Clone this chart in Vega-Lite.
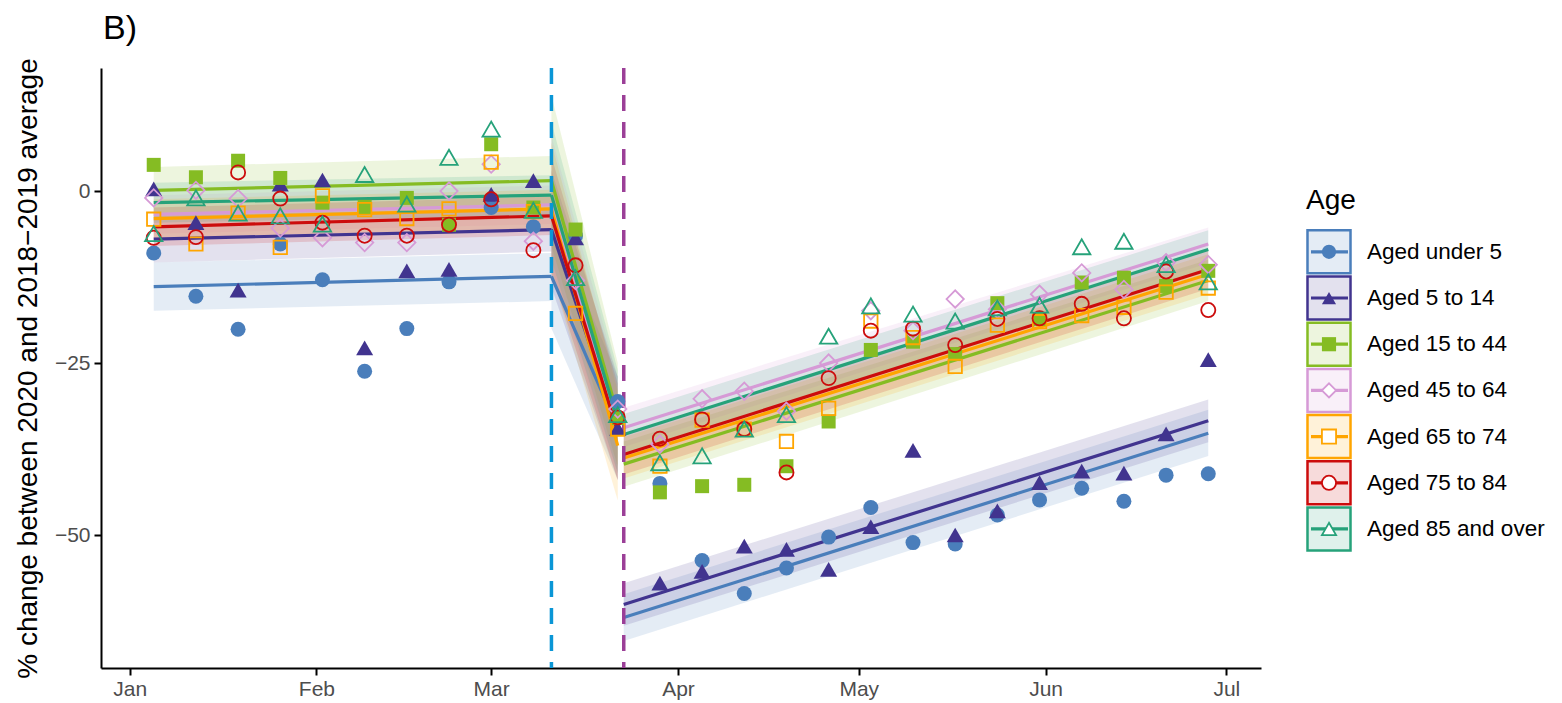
{
  "$schema": "https://vega.github.io/schema/vega-lite/v6.json",
  "background": "white",
  "padding": {"left": 14, "top": 11, "right": 2, "bottom": 2},
  "config": {"font": "Liberation Sans", "view": {"stroke": null}, "concat": {"spacing": 20}},
  "datasets": {
    "pts": [
      {"date":"2020-01-05","age":"Aged under 5","pct":-9.0},{"date":"2020-01-12","age":"Aged under 5","pct":-15.3},{"date":"2020-01-19","age":"Aged under 5","pct":-20.1},{"date":"2020-01-26","age":"Aged under 5","pct":-7.7},{"date":"2020-02-02","age":"Aged under 5","pct":-12.9},{"date":"2020-02-09","age":"Aged under 5","pct":-26.2},{"date":"2020-02-16","age":"Aged under 5","pct":-20.0},{"date":"2020-02-23","age":"Aged under 5","pct":-13.2},{"date":"2020-03-01","age":"Aged under 5","pct":-2.4},{"date":"2020-03-08","age":"Aged under 5","pct":-5.2},{"date":"2020-03-15","age":"Aged under 5","pct":-6.5},{"date":"2020-03-22","age":"Aged under 5","pct":-30.6},{"date":"2020-03-29","age":"Aged under 5","pct":-42.5},{"date":"2020-04-05","age":"Aged under 5","pct":-53.7},{"date":"2020-04-12","age":"Aged under 5","pct":-58.5},{"date":"2020-04-19","age":"Aged under 5","pct":-54.8},{"date":"2020-04-26","age":"Aged under 5","pct":-50.3},{"date":"2020-05-03","age":"Aged under 5","pct":-46.0},{"date":"2020-05-10","age":"Aged under 5","pct":-51.1},{"date":"2020-05-17","age":"Aged under 5","pct":-51.3},{"date":"2020-05-24","age":"Aged under 5","pct":-47.1},{"date":"2020-05-31","age":"Aged under 5","pct":-44.9},{"date":"2020-06-07","age":"Aged under 5","pct":-43.2},{"date":"2020-06-14","age":"Aged under 5","pct":-45.1},{"date":"2020-06-21","age":"Aged under 5","pct":-41.3},{"date":"2020-06-28","age":"Aged under 5","pct":-41.1},
      {"date":"2020-01-05","age":"Aged 5 to 14","pct":0.3},{"date":"2020-01-12","age":"Aged 5 to 14","pct":-4.6},{"date":"2020-01-19","age":"Aged 5 to 14","pct":-14.4},{"date":"2020-01-26","age":"Aged 5 to 14","pct":1.0},{"date":"2020-02-02","age":"Aged 5 to 14","pct":1.6},{"date":"2020-02-09","age":"Aged 5 to 14","pct":-22.8},{"date":"2020-02-16","age":"Aged 5 to 14","pct":-11.6},{"date":"2020-02-23","age":"Aged 5 to 14","pct":-11.4},{"date":"2020-03-01","age":"Aged 5 to 14","pct":-0.5},{"date":"2020-03-08","age":"Aged 5 to 14","pct":1.5},{"date":"2020-03-15","age":"Aged 5 to 14","pct":-6.8},{"date":"2020-03-22","age":"Aged 5 to 14","pct":-34.5},{"date":"2020-03-29","age":"Aged 5 to 14","pct":-57.0},{"date":"2020-04-05","age":"Aged 5 to 14","pct":-55.3},{"date":"2020-04-12","age":"Aged 5 to 14","pct":-51.6},{"date":"2020-04-19","age":"Aged 5 to 14","pct":-52.1},{"date":"2020-04-26","age":"Aged 5 to 14","pct":-55.0},{"date":"2020-05-03","age":"Aged 5 to 14","pct":-48.8},{"date":"2020-05-10","age":"Aged 5 to 14","pct":-37.7},{"date":"2020-05-17","age":"Aged 5 to 14","pct":-50.0},{"date":"2020-05-24","age":"Aged 5 to 14","pct":-46.5},{"date":"2020-05-31","age":"Aged 5 to 14","pct":-42.4},{"date":"2020-06-07","age":"Aged 5 to 14","pct":-40.7},{"date":"2020-06-14","age":"Aged 5 to 14","pct":-41.0},{"date":"2020-06-21","age":"Aged 5 to 14","pct":-35.3},{"date":"2020-06-28","age":"Aged 5 to 14","pct":-24.5},
      {"date":"2020-01-05","age":"Aged 15 to 44","pct":3.8},{"date":"2020-01-12","age":"Aged 15 to 44","pct":2.0},{"date":"2020-01-19","age":"Aged 15 to 44","pct":4.4},{"date":"2020-01-26","age":"Aged 15 to 44","pct":1.9},{"date":"2020-02-02","age":"Aged 15 to 44","pct":-1.7},{"date":"2020-02-09","age":"Aged 15 to 44","pct":-2.3},{"date":"2020-02-16","age":"Aged 15 to 44","pct":-1.0},{"date":"2020-02-23","age":"Aged 15 to 44","pct":-4.9},{"date":"2020-03-01","age":"Aged 15 to 44","pct":6.8},{"date":"2020-03-08","age":"Aged 15 to 44","pct":-2.4},{"date":"2020-03-15","age":"Aged 15 to 44","pct":-5.6},{"date":"2020-03-22","age":"Aged 15 to 44","pct":-33.0},{"date":"2020-03-29","age":"Aged 15 to 44","pct":-43.8},{"date":"2020-04-05","age":"Aged 15 to 44","pct":-42.9},{"date":"2020-04-12","age":"Aged 15 to 44","pct":-42.7},{"date":"2020-04-19","age":"Aged 15 to 44","pct":-40.0},{"date":"2020-04-26","age":"Aged 15 to 44","pct":-33.5},{"date":"2020-05-03","age":"Aged 15 to 44","pct":-23.1},{"date":"2020-05-10","age":"Aged 15 to 44","pct":-21.9},{"date":"2020-05-17","age":"Aged 15 to 44","pct":-23.7},{"date":"2020-05-24","age":"Aged 15 to 44","pct":-16.3},{"date":"2020-05-31","age":"Aged 15 to 44","pct":-18.6},{"date":"2020-06-07","age":"Aged 15 to 44","pct":-13.3},{"date":"2020-06-14","age":"Aged 15 to 44","pct":-12.6},{"date":"2020-06-21","age":"Aged 15 to 44","pct":-13.8},{"date":"2020-06-28","age":"Aged 15 to 44","pct":-11.6},
      {"date":"2020-01-05","age":"Aged 45 to 64","pct":-1.0},{"date":"2020-01-12","age":"Aged 45 to 64","pct":0.1},{"date":"2020-01-19","age":"Aged 45 to 64","pct":-1.1},{"date":"2020-01-26","age":"Aged 45 to 64","pct":-5.4},{"date":"2020-02-02","age":"Aged 45 to 64","pct":-6.8},{"date":"2020-02-09","age":"Aged 45 to 64","pct":-7.5},{"date":"2020-02-16","age":"Aged 45 to 64","pct":-7.5},{"date":"2020-02-23","age":"Aged 45 to 64","pct":0.0},{"date":"2020-03-01","age":"Aged 45 to 64","pct":3.9},{"date":"2020-03-08","age":"Aged 45 to 64","pct":-7.3},{"date":"2020-03-15","age":"Aged 45 to 64","pct":-13.0},{"date":"2020-03-22","age":"Aged 45 to 64","pct":-31.7},{"date":"2020-03-29","age":"Aged 45 to 64","pct":-36.8},{"date":"2020-04-05","age":"Aged 45 to 64","pct":-30.2},{"date":"2020-04-12","age":"Aged 45 to 64","pct":-29.1},{"date":"2020-04-19","age":"Aged 45 to 64","pct":-32.0},{"date":"2020-04-26","age":"Aged 45 to 64","pct":-25.0},{"date":"2020-05-03","age":"Aged 45 to 64","pct":-17.4},{"date":"2020-05-10","age":"Aged 45 to 64","pct":-20.3},{"date":"2020-05-17","age":"Aged 45 to 64","pct":-15.7},{"date":"2020-05-24","age":"Aged 45 to 64","pct":-17.2},{"date":"2020-05-31","age":"Aged 45 to 64","pct":-15.0},{"date":"2020-06-07","age":"Aged 45 to 64","pct":-11.9},{"date":"2020-06-14","age":"Aged 45 to 64","pct":-14.3},{"date":"2020-06-21","age":"Aged 45 to 64","pct":-10.4},{"date":"2020-06-28","age":"Aged 45 to 64","pct":-10.7},
      {"date":"2020-01-05","age":"Aged 65 to 74","pct":-4.1},{"date":"2020-01-12","age":"Aged 65 to 74","pct":-7.7},{"date":"2020-01-19","age":"Aged 65 to 74","pct":-3.2},{"date":"2020-01-26","age":"Aged 65 to 74","pct":-8.2},{"date":"2020-02-02","age":"Aged 65 to 74","pct":-0.7},{"date":"2020-02-09","age":"Aged 65 to 74","pct":-2.7},{"date":"2020-02-16","age":"Aged 65 to 74","pct":-4.0},{"date":"2020-02-23","age":"Aged 65 to 74","pct":-2.6},{"date":"2020-03-01","age":"Aged 65 to 74","pct":4.2},{"date":"2020-03-08","age":"Aged 65 to 74","pct":-3.0},{"date":"2020-03-15","age":"Aged 65 to 74","pct":-17.8},{"date":"2020-03-22","age":"Aged 65 to 74","pct":-34.6},{"date":"2020-03-29","age":"Aged 65 to 74","pct":-40.0},{"date":"2020-04-05","age":"Aged 65 to 74","pct":-33.3},{"date":"2020-04-12","age":"Aged 65 to 74","pct":-34.6},{"date":"2020-04-19","age":"Aged 65 to 74","pct":-36.4},{"date":"2020-04-26","age":"Aged 65 to 74","pct":-31.6},{"date":"2020-05-03","age":"Aged 65 to 74","pct":-18.9},{"date":"2020-05-10","age":"Aged 65 to 74","pct":-21.3},{"date":"2020-05-17","age":"Aged 65 to 74","pct":-25.5},{"date":"2020-05-24","age":"Aged 65 to 74","pct":-19.5},{"date":"2020-05-31","age":"Aged 65 to 74","pct":-19.0},{"date":"2020-06-07","age":"Aged 65 to 74","pct":-18.1},{"date":"2020-06-14","age":"Aged 65 to 74","pct":-16.9},{"date":"2020-06-21","age":"Aged 65 to 74","pct":-14.7},{"date":"2020-06-28","age":"Aged 65 to 74","pct":-14.1},
      {"date":"2020-01-05","age":"Aged 75 to 84","pct":-6.8},{"date":"2020-01-12","age":"Aged 75 to 84","pct":-6.7},{"date":"2020-01-19","age":"Aged 75 to 84","pct":2.7},{"date":"2020-01-26","age":"Aged 75 to 84","pct":-1.1},{"date":"2020-02-02","age":"Aged 75 to 84","pct":-4.6},{"date":"2020-02-09","age":"Aged 75 to 84","pct":-6.5},{"date":"2020-02-16","age":"Aged 75 to 84","pct":-6.5},{"date":"2020-02-23","age":"Aged 75 to 84","pct":-4.9},{"date":"2020-03-01","age":"Aged 75 to 84","pct":-1.2},{"date":"2020-03-08","age":"Aged 75 to 84","pct":-8.6},{"date":"2020-03-15","age":"Aged 75 to 84","pct":-10.8},{"date":"2020-03-22","age":"Aged 75 to 84","pct":-32.9},{"date":"2020-03-29","age":"Aged 75 to 84","pct":-36.0},{"date":"2020-04-05","age":"Aged 75 to 84","pct":-33.2},{"date":"2020-04-12","age":"Aged 75 to 84","pct":-34.6},{"date":"2020-04-19","age":"Aged 75 to 84","pct":-40.9},{"date":"2020-04-26","age":"Aged 75 to 84","pct":-27.2},{"date":"2020-05-03","age":"Aged 75 to 84","pct":-20.3},{"date":"2020-05-10","age":"Aged 75 to 84","pct":-20.0},{"date":"2020-05-17","age":"Aged 75 to 84","pct":-22.4},{"date":"2020-05-24","age":"Aged 75 to 84","pct":-18.6},{"date":"2020-05-31","age":"Aged 75 to 84","pct":-18.5},{"date":"2020-06-07","age":"Aged 75 to 84","pct":-16.4},{"date":"2020-06-14","age":"Aged 75 to 84","pct":-18.5},{"date":"2020-06-21","age":"Aged 75 to 84","pct":-11.7},{"date":"2020-06-28","age":"Aged 75 to 84","pct":-17.3},
      {"date":"2020-01-05","age":"Aged 85 and over","pct":-6.2},{"date":"2020-01-12","age":"Aged 85 and over","pct":-1.0},{"date":"2020-01-19","age":"Aged 85 and over","pct":-3.2},{"date":"2020-01-26","age":"Aged 85 and over","pct":-3.6},{"date":"2020-02-02","age":"Aged 85 and over","pct":-4.8},{"date":"2020-02-09","age":"Aged 85 and over","pct":2.4},{"date":"2020-02-16","age":"Aged 85 and over","pct":-1.9},{"date":"2020-02-23","age":"Aged 85 and over","pct":4.9},{"date":"2020-03-01","age":"Aged 85 and over","pct":9.0},{"date":"2020-03-08","age":"Aged 85 and over","pct":-2.8},{"date":"2020-03-15","age":"Aged 85 and over","pct":-12.6},{"date":"2020-03-22","age":"Aged 85 and over","pct":-32.5},{"date":"2020-03-29","age":"Aged 85 and over","pct":-39.5},{"date":"2020-04-05","age":"Aged 85 and over","pct":-38.5},{"date":"2020-04-12","age":"Aged 85 and over","pct":-34.6},{"date":"2020-04-19","age":"Aged 85 and over","pct":-32.5},{"date":"2020-04-26","age":"Aged 85 and over","pct":-21.1},{"date":"2020-05-03","age":"Aged 85 and over","pct":-16.7},{"date":"2020-05-10","age":"Aged 85 and over","pct":-17.9},{"date":"2020-05-17","age":"Aged 85 and over","pct":-18.9},{"date":"2020-05-24","age":"Aged 85 and over","pct":-17.0},{"date":"2020-05-31","age":"Aged 85 and over","pct":-16.6},{"date":"2020-06-07","age":"Aged 85 and over","pct":-8.1},{"date":"2020-06-14","age":"Aged 85 and over","pct":-7.3},{"date":"2020-06-21","age":"Aged 85 and over","pct":-10.7},{"date":"2020-06-28","age":"Aged 85 and over","pct":-13.2}
    ],
    "fit": [
      {"age":"Aged under 5","seg":"pre","date":"2020-01-05","fit":-13.9,"lo":-17.4,"hi":-10.4},{"age":"Aged under 5","seg":"pre","date":"2020-03-11","fit":-12.4,"lo":-16.0,"hi":-9.0},
      {"age":"Aged under 5","seg":"trans","date":"2020-03-11","fit":-12.4,"lo":-20.0,"hi":-4.0},{"age":"Aged under 5","seg":"trans","date":"2020-03-22","fit":-34.5,"lo":-42.0,"hi":-27.0},
      {"age":"Aged under 5","seg":"post","date":"2020-03-23","fit":-62.0,"lo":-65.4,"hi":-58.6},{"age":"Aged under 5","seg":"post","date":"2020-06-28","fit":-35.2,"lo":-38.5,"hi":-31.8},
      {"age":"Aged 5 to 14","seg":"pre","date":"2020-01-05","fit":-7.0,"lo":-10.4,"hi":-3.6},{"age":"Aged 5 to 14","seg":"pre","date":"2020-03-11","fit":-5.6,"lo":-8.8,"hi":-2.4},
      {"age":"Aged 5 to 14","seg":"trans","date":"2020-03-11","fit":-5.6,"lo":-14.0,"hi":3.0},{"age":"Aged 5 to 14","seg":"trans","date":"2020-03-22","fit":-34.5,"lo":-42.0,"hi":-27.0},
      {"age":"Aged 5 to 14","seg":"post","date":"2020-03-23","fit":-60.1,"lo":-63.2,"hi":-57.0},{"age":"Aged 5 to 14","seg":"post","date":"2020-06-28","fit":-33.4,"lo":-36.5,"hi":-30.3},
      {"age":"Aged 15 to 44","seg":"pre","date":"2020-01-05","fit":0.1,"lo":-3.3,"hi":3.5},{"age":"Aged 15 to 44","seg":"pre","date":"2020-03-11","fit":1.5,"lo":-2.1,"hi":5.1},
      {"age":"Aged 15 to 44","seg":"trans","date":"2020-03-11","fit":1.5,"lo":-8.0,"hi":13.9},{"age":"Aged 15 to 44","seg":"trans","date":"2020-03-22","fit":-32.5,"lo":-40.0,"hi":-25.0},
      {"age":"Aged 15 to 44","seg":"post","date":"2020-03-23","fit":-39.7,"lo":-43.0,"hi":-36.4},{"age":"Aged 15 to 44","seg":"post","date":"2020-06-28","fit":-13.0,"lo":-16.0,"hi":-10.0},
      {"age":"Aged 45 to 64","seg":"pre","date":"2020-01-05","fit":-3.4,"lo":-6.2,"hi":-0.6},{"age":"Aged 45 to 64","seg":"pre","date":"2020-03-11","fit":-2.0,"lo":-4.8,"hi":0.8},
      {"age":"Aged 45 to 64","seg":"trans","date":"2020-03-11","fit":-2.0,"lo":-11.0,"hi":8.0},{"age":"Aged 45 to 64","seg":"trans","date":"2020-03-22","fit":-34.0,"lo":-41.0,"hi":-27.0},
      {"age":"Aged 45 to 64","seg":"post","date":"2020-03-23","fit":-34.4,"lo":-37.2,"hi":-31.5},{"age":"Aged 45 to 64","seg":"post","date":"2020-06-28","fit":-7.7,"lo":-10.5,"hi":-5.3},
      {"age":"Aged 65 to 74","seg":"pre","date":"2020-01-05","fit":-4.0,"lo":-6.8,"hi":-1.2},{"age":"Aged 65 to 74","seg":"pre","date":"2020-03-11","fit":-2.6,"lo":-5.4,"hi":0.2},
      {"age":"Aged 65 to 74","seg":"trans","date":"2020-03-11","fit":-2.6,"lo":-12.0,"hi":7.0},{"age":"Aged 65 to 74","seg":"trans","date":"2020-03-22","fit":-37.0,"lo":-45.0,"hi":-29.0},
      {"age":"Aged 65 to 74","seg":"post","date":"2020-03-23","fit":-38.8,"lo":-41.8,"hi":-35.8},{"age":"Aged 65 to 74","seg":"post","date":"2020-06-28","fit":-12.1,"lo":-15.0,"hi":-9.2},
      {"age":"Aged 75 to 84","seg":"pre","date":"2020-01-05","fit":-5.2,"lo":-8.0,"hi":-2.4},{"age":"Aged 75 to 84","seg":"pre","date":"2020-03-11","fit":-3.6,"lo":-6.4,"hi":-0.8},
      {"age":"Aged 75 to 84","seg":"trans","date":"2020-03-11","fit":-3.6,"lo":-12.0,"hi":5.0},{"age":"Aged 75 to 84","seg":"trans","date":"2020-03-22","fit":-35.0,"lo":-42.0,"hi":-28.0},
      {"age":"Aged 75 to 84","seg":"post","date":"2020-03-23","fit":-38.3,"lo":-41.2,"hi":-35.4},{"age":"Aged 75 to 84","seg":"post","date":"2020-06-28","fit":-11.4,"lo":-14.2,"hi":-8.6},
      {"age":"Aged 85 and over","seg":"pre","date":"2020-01-05","fit":-1.7,"lo":-4.6,"hi":1.2},{"age":"Aged 85 and over","seg":"pre","date":"2020-03-11","fit":-0.6,"lo":-3.5,"hi":2.3},
      {"age":"Aged 85 and over","seg":"trans","date":"2020-03-11","fit":-0.6,"lo":-10.0,"hi":10.0},{"age":"Aged 85 and over","seg":"trans","date":"2020-03-22","fit":-33.5,"lo":-41.0,"hi":-26.0},
      {"age":"Aged 85 and over","seg":"post","date":"2020-03-23","fit":-35.4,"lo":-38.4,"hi":-32.4},{"age":"Aged 85 and over","seg":"post","date":"2020-06-28","fit":-8.5,"lo":-11.3,"hi":-5.7}
    ],
    "leg": [
      {"age":"Aged under 5","rank":1},{"age":"Aged 5 to 14","rank":2},{"age":"Aged 15 to 44","rank":3},{"age":"Aged 45 to 64","rank":4},{"age":"Aged 65 to 74","rank":5},{"age":"Aged 75 to 84","rank":6},{"age":"Aged 85 and over","rank":7}
    ],
    "events": [
      {"date":"2020-03-11","event":"first"},{"date":"2020-03-23","event":"lockdown"}
    ]
  },
  "hconcat": [
    {
      "width": 1160,
      "height": 600,
      "title": {"text": "B)", "anchor": "start", "frame": "group", "fontSize": 34, "fontWeight": "normal", "color": "black", "offset": 12, "font": "Liberation Sans", "dx": 2},
      "layer": [
        {
          "data": {"name": "fit"},
          "mark": {"type": "area", "opacity": 0.15},
          "encoding": {
            "x": {"field": "date", "type": "temporal",
              "scale": {"type": "utc", "domain": [{"year": 2019, "month": 12, "date": 27, "hours": 6, "utc": true}, {"year": 2020, "month": 7, "date": 6, "hours": 18, "utc": true}]},
              "axis": {"title": null, "format": "%b", "grid": false,
                "values": [{"year": 2020, "month": 1, "date": 1, "utc": true}, {"year": 2020, "month": 2, "date": 1, "utc": true}, {"year": 2020, "month": 3, "date": 1, "utc": true}, {"year": 2020, "month": 4, "date": 1, "utc": true}, {"year": 2020, "month": 5, "date": 1, "utc": true}, {"year": 2020, "month": 6, "date": 1, "utc": true}, {"year": 2020, "month": 7, "date": 1, "utc": true}],
                "labelFontSize": 21, "labelColor": "#4D4D4D", "labelFont": "Liberation Sans", "labelPadding": 3,
                "domainColor": "black", "domainWidth": 2, "tickColor": "black", "tickWidth": 2, "tickSize": 7}},
            "y": {"field": "lo", "type": "quantitative",
              "scale": {"domain": [-69.33, 17.88], "nice": false, "zero": false},
              "axis": {"title": "% change between 2020 and 2018−2019 average", "values": [-50, -25, 0], "grid": false,
                "labelExpr": "replace(datum.label, '-', '−')",
                "labelFontSize": 21, "labelColor": "#4D4D4D", "labelFont": "Liberation Sans", "labelPadding": 4,
                "titleFontSize": 28, "titleFontWeight": "normal", "titleColor": "black", "titleFont": "Liberation Sans", "titlePadding": 12,
                "domainColor": "black", "domainWidth": 2, "tickColor": "black", "tickWidth": 2, "tickSize": 7}},
            "y2": {"field": "hi"},
            "color": {"field": "age", "type": "nominal", "legend": null,
              "scale": {"domain": ["Aged under 5", "Aged 5 to 14", "Aged 15 to 44", "Aged 45 to 64", "Aged 65 to 74", "Aged 75 to 84", "Aged 85 and over"],
                "range": ["#4A7EBB", "#41348F", "#85BC23", "#D69AD6", "#FFA500", "#CC0C0C", "#26A27A"]}},
            "detail": {"field": "seg"}
          }
        },
        {
          "data": {"name": "fit"},
          "mark": {"type": "line", "strokeWidth": 3.2},
          "encoding": {
            "x": {"field": "date", "type": "temporal"},
            "y": {"field": "fit", "type": "quantitative"},
            "color": {"field": "age", "type": "nominal", "legend": null},
            "detail": {"field": "seg"}
          }
        },
        {
          "mark": {"type": "rule", "color": "black", "strokeWidth": 2, "strokeDash": [10, 8]},
          "encoding": {"y": {"datum": 0, "type": "quantitative"}}
        },
        {
          "data": {"name": "events"},
          "transform": [{"filter": {"field": "event", "equal": "first"}}],
          "mark": {"type": "rule", "color": "#0A96D6", "strokeWidth": 3.5, "strokeDash": [16, 11]},
          "encoding": {"x": {"field": "date", "type": "temporal"}}
        },
        {
          "data": {"name": "events"},
          "transform": [{"filter": {"field": "event", "equal": "lockdown"}}],
          "mark": {"type": "rule", "color": "#9B3F97", "strokeWidth": 3.5, "strokeDash": [16, 11]},
          "encoding": {"x": {"field": "date", "type": "temporal"}}
        },
        {
          "data": {"name": "pts"},
          "transform": [{"filter": {"field": "age", "equal": "Aged under 5"}}],
          "mark": {"type": "point", "shape": "circle", "filled": true, "opacity": 1, "size": 225},
          "encoding": {"x": {"field": "date", "type": "temporal"}, "y": {"field": "pct", "type": "quantitative"}, "color": {"field": "age", "type": "nominal", "legend": null}}
        },
        {
          "data": {"name": "pts"},
          "transform": [{"filter": {"field": "age", "equal": "Aged 5 to 14"}}],
          "mark": {"type": "point", "shape": "triangle-up", "filled": true, "opacity": 1, "size": 289},
          "encoding": {"x": {"field": "date", "type": "temporal"}, "y": {"field": "pct", "type": "quantitative"}, "color": {"field": "age", "type": "nominal", "legend": null}}
        },
        {
          "data": {"name": "pts"},
          "transform": [{"filter": {"field": "age", "equal": "Aged 15 to 44"}}],
          "mark": {"type": "point", "shape": "square", "filled": true, "opacity": 1, "size": 196},
          "encoding": {"x": {"field": "date", "type": "temporal"}, "y": {"field": "pct", "type": "quantitative"}, "color": {"field": "age", "type": "nominal", "legend": null}}
        },
        {
          "data": {"name": "pts"},
          "transform": [{"filter": {"field": "age", "equal": "Aged 45 to 64"}}],
          "mark": {"type": "point", "shape": "diamond", "filled": false, "opacity": 1, "size": 300, "strokeWidth": 1.8},
          "encoding": {"x": {"field": "date", "type": "temporal"}, "y": {"field": "pct", "type": "quantitative"}, "color": {"field": "age", "type": "nominal", "legend": null}}
        },
        {
          "data": {"name": "pts"},
          "transform": [{"filter": {"field": "age", "equal": "Aged 65 to 74"}}],
          "mark": {"type": "point", "shape": "square", "filled": false, "opacity": 1, "size": 180, "strokeWidth": 1.8},
          "encoding": {"x": {"field": "date", "type": "temporal"}, "y": {"field": "pct", "type": "quantitative"}, "color": {"field": "age", "type": "nominal", "legend": null}}
        },
        {
          "data": {"name": "pts"},
          "transform": [{"filter": {"field": "age", "equal": "Aged 75 to 84"}}],
          "mark": {"type": "point", "shape": "circle", "filled": false, "opacity": 1, "size": 200, "strokeWidth": 1.8},
          "encoding": {"x": {"field": "date", "type": "temporal"}, "y": {"field": "pct", "type": "quantitative"}, "color": {"field": "age", "type": "nominal", "legend": null}}
        },
        {
          "data": {"name": "pts"},
          "transform": [{"filter": {"field": "age", "equal": "Aged 85 and over"}}],
          "mark": {"type": "point", "shape": "triangle-up", "filled": false, "opacity": 1, "size": 300, "strokeWidth": 1.8},
          "encoding": {"x": {"field": "date", "type": "temporal"}, "y": {"field": "pct", "type": "quantitative"}, "color": {"field": "age", "type": "nominal", "legend": null}}
        }
      ]
    },
    {
      "width": 270,
      "height": 600,
      "layer": [
        {
          "data": {"values": [{"label": "Age", "rank": -0.1}]},
          "mark": {"type": "text", "align": "left", "baseline": "middle", "fontSize": 28, "font": "Liberation Sans", "color": "black"},
          "encoding": {
            "x": {"datum": 2.5, "type": "quantitative", "scale": {"domain": [0, 27], "nice": false, "zero": false}, "axis": null},
            "y": {"field": "rank", "type": "quantitative", "scale": {"domain": [-2.98, 10.01], "nice": false, "zero": false, "reverse": true}, "axis": null},
            "text": {"field": "label"}
          }
        },
        {
          "data": {"name": "leg"},
          "mark": {"type": "point", "shape": "square", "size": 1850, "filled": true, "opacity": 1, "fillOpacity": 0.15, "strokeWidth": 2.5},
          "encoding": {
            "x": {"datum": 4.8, "type": "quantitative"},
            "y": {"field": "rank", "type": "quantitative"},
            "fill": {"field": "age", "type": "nominal", "legend": null,
              "scale": {"domain": ["Aged under 5", "Aged 5 to 14", "Aged 15 to 44", "Aged 45 to 64", "Aged 65 to 74", "Aged 75 to 84", "Aged 85 and over"],
                "range": ["#4A7EBB", "#41348F", "#85BC23", "#D69AD6", "#FFA500", "#CC0C0C", "#26A27A"]}},
            "stroke": {"field": "age", "type": "nominal", "legend": null,
              "scale": {"domain": ["Aged under 5", "Aged 5 to 14", "Aged 15 to 44", "Aged 45 to 64", "Aged 65 to 74", "Aged 75 to 84", "Aged 85 and over"],
                "range": ["#4A7EBB", "#41348F", "#85BC23", "#D69AD6", "#FFA500", "#CC0C0C", "#26A27A"]}}
          }
        },
        {
          "data": {"name": "leg"},
          "mark": {"type": "rule", "strokeWidth": 3.2},
          "encoding": {
            "x": {"datum": 3.0, "type": "quantitative"},
            "x2": {"datum": 6.7},
            "y": {"field": "rank", "type": "quantitative"},
            "color": {"field": "age", "type": "nominal", "legend": null,
              "scale": {"domain": ["Aged under 5", "Aged 5 to 14", "Aged 15 to 44", "Aged 45 to 64", "Aged 65 to 74", "Aged 75 to 84", "Aged 85 and over"],
                "range": ["#4A7EBB", "#41348F", "#85BC23", "#D69AD6", "#FFA500", "#CC0C0C", "#26A27A"]}}
          }
        },
        {
          "data": {"name": "leg"},
          "transform": [{"filter": "datum.rank <= 3"}],
          "mark": {"type": "point", "filled": true, "opacity": 1, "size": 200},
          "encoding": {
            "x": {"datum": 4.8, "type": "quantitative"},
            "y": {"field": "rank", "type": "quantitative"},
            "color": {"field": "age", "type": "nominal", "legend": null},
            "shape": {"field": "age", "type": "nominal", "legend": null,
              "scale": {"domain": ["Aged under 5", "Aged 5 to 14", "Aged 15 to 44", "Aged 45 to 64", "Aged 65 to 74", "Aged 75 to 84", "Aged 85 and over"],
                "range": ["circle", "triangle-up", "square", "diamond", "square", "circle", "triangle-up"]}}
          }
        },
        {
          "data": {"name": "leg"},
          "transform": [{"filter": "datum.rank > 3"}],
          "mark": {"type": "point", "filled": false, "opacity": 1, "size": 200, "strokeWidth": 1.8, "fill": "white"},
          "encoding": {
            "x": {"datum": 4.8, "type": "quantitative"},
            "y": {"field": "rank", "type": "quantitative"},
            "color": {"field": "age", "type": "nominal", "legend": null},
            "shape": {"field": "age", "type": "nominal", "legend": null}
          }
        },
        {
          "data": {"name": "leg"},
          "mark": {"type": "text", "align": "left", "baseline": "middle", "fontSize": 22.5, "font": "Liberation Sans", "color": "black"},
          "encoding": {
            "x": {"datum": 8.6, "type": "quantitative"},
            "y": {"field": "rank", "type": "quantitative"},
            "text": {"field": "age"}
          }
        }
      ]
    }
  ]
}
